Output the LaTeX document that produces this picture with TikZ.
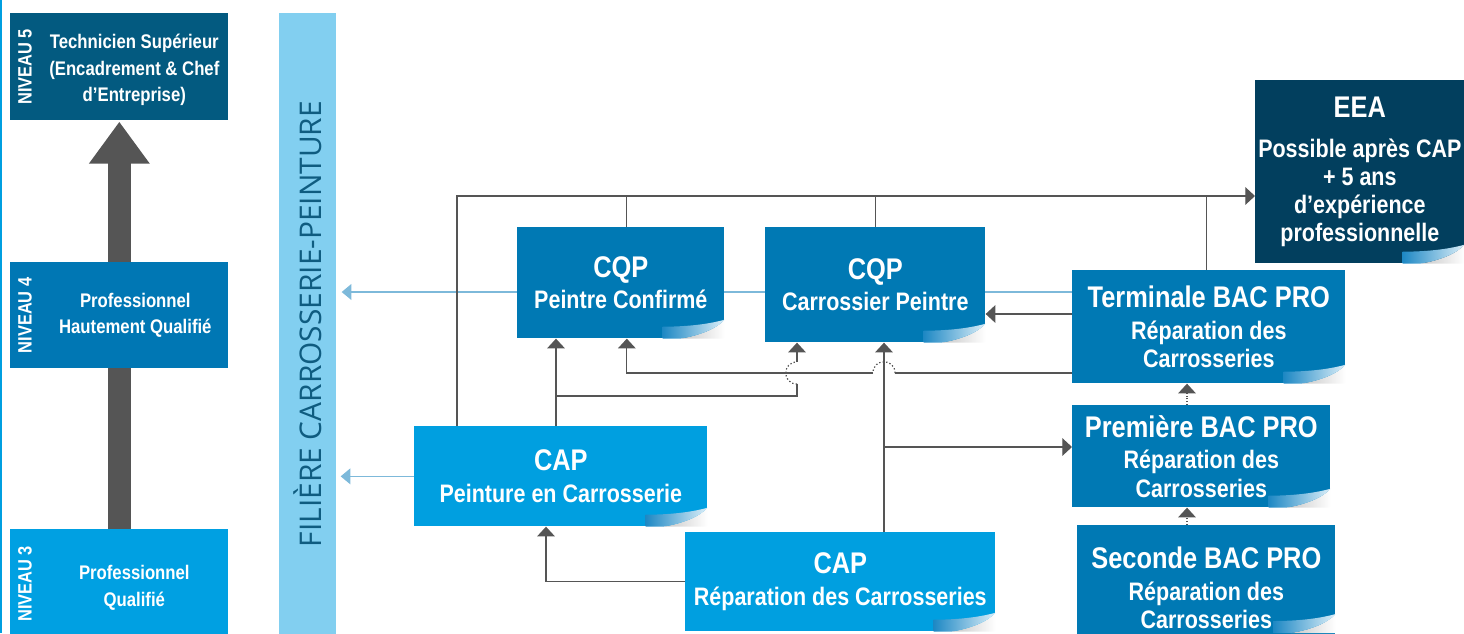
\documentclass[tikz,border=0pt]{standalone}
\usepackage{fontspec}
\setmainfont{Liberation Sans}[FakeStretch=0.85]
\newfontfamily\barfont{Open Sans}
\usepackage{tikz}
\usetikzlibrary{arrows.meta,calc}
\pgfdeclarelayer{back}
\pgfsetlayers{back,main}

\definecolor{lvlfive}{HTML}{035A80}
\definecolor{lvlfour}{HTML}{0077B4}
\definecolor{lvlthree}{HTML}{00A0E2}
\definecolor{barblue}{HTML}{82CFF0}
\definecolor{bartext}{HTML}{0F5C80}
\definecolor{midblue}{HTML}{0079B4}
\definecolor{capblue}{HTML}{009FE0}
\definecolor{eeablue}{HTML}{023F5E}
\definecolor{arrowgray}{HTML}{555555}
\definecolor{lightline}{HTML}{7DB9DA}
\definecolor{flapblue}{HTML}{1E88C4}
\definecolor{flaplight}{HTML}{DCEFF9}

\newcommand{\ttl}[1]{{\fontsize{17}{19}\selectfont #1}}

\begin{document}
\begin{tikzpicture}[
            x = 0.02cm, y = -0.02cm, % one unit per pixel, y downwards
            > = {Triangle[length=5.5pt,width=10pt]}, % arrow head style
            flow/.style = {draw=arrowgray, line width=0.7pt},
            hopline/.style = {draw=arrowgray, line width=0.7pt, dash pattern=on 0.8pt off 1.2pt},
            dotflow/.style = {draw=arrowgray, line width=0.6pt, densely dotted},
            lightflow/.style = {draw=lightline, line width=0.6pt, -{Triangle[length=5.5pt,width=9pt]}},
            lvlbox/.style = {anchor=north west, inner sep=0, minimum width=4.36cm},
            lvltext/.style = {text=white, align=center, font=\bfseries\fontsize{11.2}{15}\selectfont},
            lvltag/.style = {text=white, rotate=90, font=\bfseries\fontsize{11}{13}\selectfont},
            box/.style = {anchor=north west, inner sep=0, align=center, text=white,
                          font=\bfseries\fontsize{14.4}{16}\selectfont},
            curl/.pic = {
                \shade[left color=gray!45, right color=white]
                    (0,-19) -- (0,0) -- (-45,0) .. controls (-25,-3) and (-8,-10) .. (0,-19) -- cycle;
                \shade[left color=flapblue, right color=flaplight]
                    (-62,0) -- (-62,-12) .. controls (-40,-12) and (-18,-14) .. (0,-19)
                    .. controls (-8,-10) and (-25,-3) .. (-45,0) -- cycle;
            }
        ]
\useasboundingbox (0,0) rectangle (1464,633);

\draw[capblue, line width=1.1pt] (1,0) -- (1,633);

% level column
\node[lvlbox, fill=lvlfive, minimum height=2.14cm] (n5) at (10,13) {};
\node[lvlbox, fill=lvlfour, minimum height=2.12cm] (n4) at (10,262) {};
\node[lvlbox, fill=lvlthree, minimum height=2.3cm] (n3) at (10,529) {};
\begin{pgfonlayer}{back}
\draw[arrowgray, line width=0.46cm, -{Triangle[length=0.84cm,width=1.16cm]}] (n3.north) -- ($(n5.south)+(0,1)$);
\end{pgfonlayer}
\node[lvltag] (g5) at ($(n5.west)+(15,0)$) {NIVEAU 5};
\node[lvltag] (g4) at ($(n4.west)+(15,0)$) {NIVEAU 4};
\node[lvltag] (g3) at ($(n3.west)+(15,-3)$) {NIVEAU 3};
\node[lvltext] (t5) at ($(n5.center)+(15,3)$) {Technicien Supérieur\\(Encadrement \& Chef\\d'Entreprise)};
\node[lvltext] (t4) at ($(n4.center)+(16,0)$) {Professionnel\\Hautement Qualifié};
\node[lvltext] (t3) at ($(n3.center)+(15,1)$) {Professionnel\\Qualifié};

% filiere band
\node[anchor=north west, inner sep=0, fill=barblue, minimum width=1.14cm, minimum height=12.6cm] (bar) at (279,13) {};
\node[rotate=90, text=bartext, font=\barfont\fontsize{17}{20}\selectfont] (bartitle) at (307.5,324) {FILIÈRE CARROSSERIE-PEINTURE};

% formations
\node[box, fill=midblue, minimum width=4.14cm, minimum height=2.22cm] (cqppc) at (517,227) {\ttl{CQP}\\[2pt]Peintre Confirmé};
\node[box, fill=midblue, minimum width=4.4cm, minimum height=2.3cm] (cqpcp) at (765,227) {\ttl{CQP}\\[2pt]Carrossier Peintre};
\node[box, fill=capblue, minimum width=5.86cm, minimum height=2cm] (cappc) at (414,426) {\ttl{CAP}\\[2pt]Peinture en Carrosserie};
\node[box, fill=capblue, minimum width=6.2cm, minimum height=1.98cm] (caprc) at (685,532) {\ttl{CAP}\\[2pt]Réparation des Carrosseries};
\node[box, fill=eeablue, minimum width=4.18cm, minimum height=3.66cm] (eea) at (1255,80) {\ttl{EEA}\\[7pt]Possible après CAP\\+ 5 ans\\d'expérience\\professionnelle};
\node[box, fill=midblue, minimum width=5.46cm, minimum height=2.26cm] (bact) at (1072,270) {\ttl{Terminale BAC PRO}\\[2pt]Réparation des\\Carrosseries};
\node[box, fill=midblue, minimum width=5.16cm, minimum height=2.04cm] (bac1) at (1072,405) {\ttl{Première BAC PRO}\\[2pt]Réparation des\\Carrosseries};
\node[box, fill=midblue, minimum width=5.16cm, minimum height=2.5cm] (bac2) at (1077,525) {\ttl{Seconde BAC PRO}\\[2pt]Réparation des\\Carrosseries};

\foreach \b in {cqppc,cqpcp,cappc,caprc,eea,bact,bac1}
    \pic at (\b.south east) {curl};
\pic at ($(bac2.north east)+(0,108)$) {curl};

% links to the band
\coordinate (lt) at (0,292);
\begin{pgfonlayer}{back}
\draw[lightflow] (bact.west |- lt) -- ($(bar.east |- lt)+(5,0)$);
\end{pgfonlayer}
\draw[lightflow] (cappc.west) -- ($(bar.east |- cappc.west)+(4,0)$);

% links to EEA
\coordinate (bus) at (0,196);
\draw[flow,->] ($(cappc.north west)+(43,0)$) |- (eea.west |- bus);
\draw[flow] ($(cqppc.north)+(6,0)$) -- ($(cqppc.north |- bus)+(6,0)$);
\draw[flow] (cqpcp.north) -- (cqpcp.north |- bus);
\draw[flow] ($(bact.north)+(-2,0)$) -- ($(bact.north |- bus)+(-2,0)$);

% CAP Peinture
\coordinate (up1) at (556,396);
\coordinate (hop1) at (797,373);
\draw[flow,->] (cappc.north -| up1) -- (cqppc.south -| up1);
\draw[flow] (up1) -| ($(hop1)+(0,11)$);
\draw[hopline] ($(hop1)+(0,11)$) .. controls ($(hop1)+(-15,11)$) and ($(hop1)+(-15,-11)$) .. ($(hop1)+(0,-11)$);
\draw[flow,->] ($(hop1)+(0,-11)$) -- (cqpcp.south -| hop1);

% Terminale
\coordinate (hop2) at (884,373);
\coordinate (tc) at ($(bact.north west)+(0,44)$);
\draw[flow,->] (tc) -- (tc -| cqpcp.east);
\draw[flow] (bact.west |- hop2) -- ($(hop2)+(11,0)$);
\draw[hopline] ($(hop2)+(11,0)$) .. controls ($(hop2)+(11,-15)$) and ($(hop2)+(-11,-15)$) .. ($(hop2)+(-11,0)$);
\draw[flow,->] ($(hop2)+(-11,0)$) -| ($(cqppc.south)+(6,0)$);

% CAP Reparation
\coordinate (br) at (884,447);
\draw[flow,->] (caprc.north -| hop2) -- (cqpcp.south -| hop2);
\draw[flow,->] (br) -- (bac1.west |- br);
\draw[flow,->] (caprc.west) -| ($(cappc.south west)+(132,0)$);

% BAC PRO steps
\coordinate (dx) at (1187,0);
\draw[dotflow,->] (bac1.north -| dx) -- (bact.south -| dx);
\draw[dotflow,->] (bac2.north -| dx) -- (bac1.south -| dx);
\end{tikzpicture}
\end{document}
